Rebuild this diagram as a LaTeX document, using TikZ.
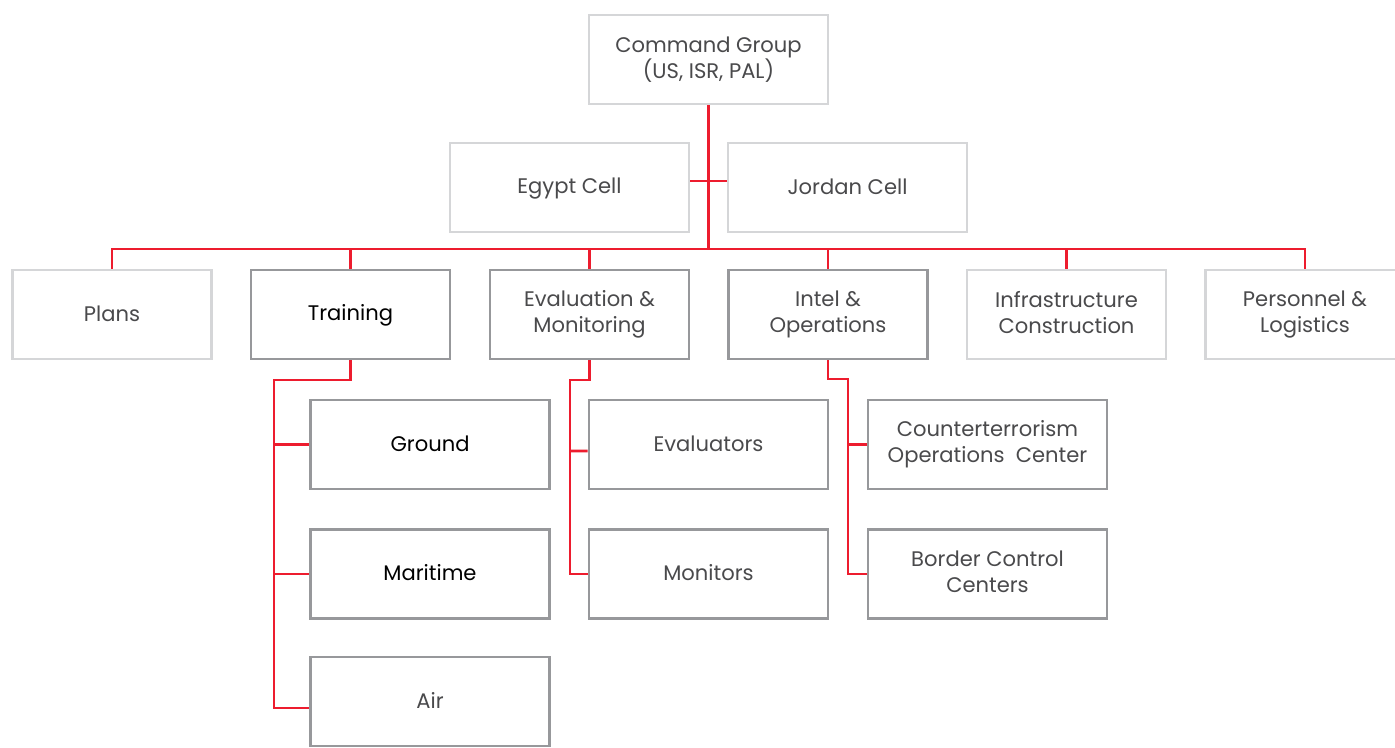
\documentclass[tikz,border=0pt]{standalone}
\usepackage{fontspec}
\setmainfont{Poppins}
\usetikzlibrary{calc}

\definecolor{wirered}{HTML}{ED1C2E}
\definecolor{lightedge}{HTML}{D5D6D8}
\definecolor{darkedge}{HTML}{97989B}
\definecolor{txtgray}{HTML}{4A4A4C}

\newcommand\boxstrut{\rule[-2.2pt]{0pt}{12pt}}

\tikzset{
  unit/.style={draw, line width=1.6pt, fill=white, align=center, text=txtgray,
    minimum width=4.78cm, minimum height=1.78cm, inner sep=2pt,
    font=\fontsize{12}{14.7}\selectfont,
    execute at begin node=\boxstrut, execute at end node=\boxstrut},
  pale/.style={unit, draw=lightedge},
  dark/.style={unit, draw=darkedge},
  slim/.style={minimum width=3.98cm},
  wire/.style={draw=wirered, line width=1.5pt}
}

\begin{document}
\begin{tikzpicture}[x=0.02cm, y=-0.02cm]
\useasboundingbox (0,0) rectangle (1395,747);

% command level
\node[pale] (cmd) at (708.5,59.5) {Command Group\\(US, ISR, PAL)};
\node[pale] (egypt) at (569.5,187.5) {Egypt Cell};
\node[pale] (jordan) at (847.5,187.5) {Jordan Cell};

% staff sections
\node[pale, slim] (plans) at (112,314.5) {Plans};
\node[dark, slim, text=black] (train) at (350.5,314.5) {Training};
\node[dark, slim] (evalm) at (589.5,314.5) {Evaluation \&\\Monitoring};
\node[dark, slim] (intel) at (828,314.5) {Intel \&\\Operations};
\node[pale, slim] (infra) at (1066.5,314.5) {Infrastructure\\Construction};
\node[pale, slim] (pers) at (1305,314.5) {Personnel \&\\Logistics};

% sub units
\node[dark, text=black] (ground) at (430,444.5) {Ground};
\node[dark, text=black] (marit) at (430,574) {Maritime};
\node[dark] (air) at (430,701.5) {Air};
\node[dark] (evals) at (708.5,444.5) {Evaluators};
\node[dark] (monit) at (708.5,574) {Monitors};
\node[dark] (ctoc) at (987.5,444.5) {Counterterrorism\\Operations\ \ Center};
\node[dark] (bcc) at (987.5,574) {Border Control\\Centers};

% connectors
\coordinate (bus) at (708.5,249);
\draw[wire] (cmd.south) -- (bus);
\draw[wire] ([yshift=0.13cm]egypt.east) -- ([yshift=0.13cm]jordan.west);
\draw[wire] (plans.north) |- (bus) -| (pers.north);
\foreach \n in {train, evalm, intel, infra} \draw[wire] (\n.north) -- (\n.north |- bus);

\coordinate (ttrunk) at (274,380);
\draw[wire] (train.south) |- (ttrunk) |- ([yshift=-0.13cm]air.west);
\foreach \n in {ground, marit} \draw[wire] (ttrunk |- \n.west) -- (\n.west);

\coordinate (etrunk) at (570,380);
\draw[wire] (evalm.south) |- (etrunk) |- (monit.west);
\draw[wire] (etrunk |- evals.west) ++(0,6.5) -- ([yshift=-0.13cm]evals.west);

\coordinate (itrunk) at (848,379);
\draw[wire] (intel.south) |- (itrunk) |- (bcc.west);
\draw[wire] (itrunk |- ctoc.west) -- (ctoc.west);
\end{tikzpicture}
\end{document}
